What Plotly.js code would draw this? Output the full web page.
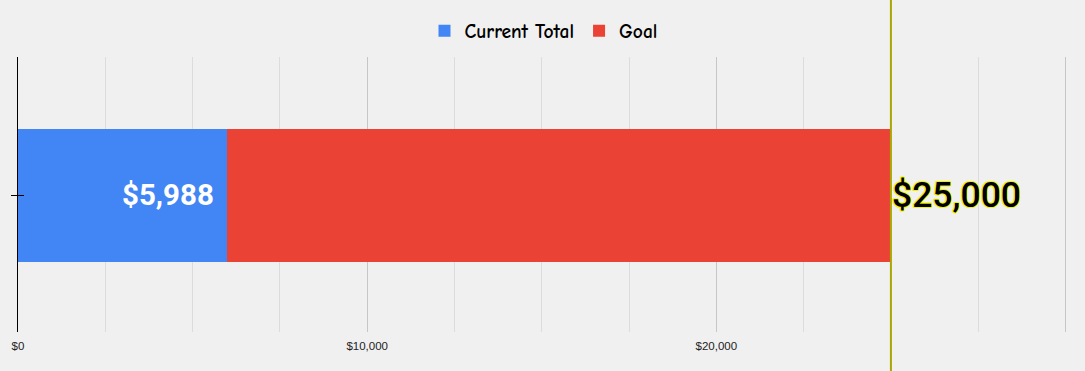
<!DOCTYPE html>
<html>
<head>
<meta charset="utf-8">
<script src="https://cdn.plot.ly/plotly-3.0.1.min.js"></script>
<style>
  html, body { margin: 0; padding: 0; background: #f0f0f0; }
  #chart { width: 1085px; height: 371px; }
  /* yellow halo around the goal label */
  g.annotation:last-of-type .annotation-text {
    paint-order: stroke;
    stroke: #f2f200;
    stroke-width: 2.2px;
    stroke-linejoin: round;
  }
</style>
</head>
<body>
<div id="chart"></div>
<script>
// Fundraising progress
const categories = ["Progress"];
const currentTotal = [5988];
const goal = [25000];
const tickValues = [0, 10000, 20000, 30000];
const tickLabels = ["$0", "$10,000", "$20,000", ""];

const remaining = goal.map((g, i) => g - currentTotal[i]);
const fmt = v => "$" + v.toLocaleString("en-US");

const traces = [
  {
    type: "bar",
    orientation: "h",
    name: "Current Total",
    y: categories,
    x: currentTotal,
    marker: { color: "#4285f4" },
    hoverinfo: "skip"
  },
  {
    type: "bar",
    orientation: "h",
    name: "Goal",
    y: categories,
    x: remaining,
    marker: { color: "#ea4335" },
    hoverinfo: "skip"
  }
];

const layout = {
  width: 1085,
  height: 371,
  paper_bgcolor: "#f0f0f0",
  plot_bgcolor: "#f0f0f0",
  barmode: "stack",
  bargap: 0.517,
  margin: { l: 18, r: 16, t: 56, b: 39 },
  showlegend: true,
  legend: {
    orientation: "h",
    x: 0.5, xanchor: "center",
    y: 1.02, yanchor: "bottom",
    yref: "paper",
    font: { family: "Comic Sans MS, Comic Neue, DejaVu Sans", size: 19.5, color: "#000000", weight: 700 },
    itemwidth: 30,
    traceorder: "normal",
    bgcolor: "rgba(0,0,0,0)"
  },
  xaxis: {
    range: [0, 30100],
    tickmode: "array",
    tickvals: tickValues,
    ticktext: tickLabels,
    ticks: "",
    ticklabelstandoff: 5,
    showgrid: true,
    gridcolor: "#c6c6c6",
    gridwidth: 1,
    zeroline: false,
    showline: false,
    tickfont: { family: "Liberation Sans, Arial", size: 11.5, color: "#222222" },
    minor: { dtick: 2500, tick0: 0, showgrid: true, gridcolor: "#dcdcdc", gridwidth: 1 },
    fixedrange: true
  },
  yaxis: {
    range: [-0.4964, 0.5036],
    showticklabels: false,
    ticks: "outside",
    ticklen: 6,
    tickcolor: "#000000",
    showline: true,
    linecolor: "#000000",
    linewidth: 1,
    showgrid: false,
    zeroline: false,
    fixedrange: true
  },
  shapes: [
    // goal marker line across the full height
    {
      type: "line", xref: "x", yref: "paper",
      x0: goal[0], x1: goal[0], y0: -0.2, y1: 1.3,
      line: { color: "#a8a800", width: 2 }
    },
    // inner half of the category tick, crossing the axis line
    {
      type: "line", xref: "paper", yref: "y",
      xsizemode: "pixel", xanchor: 0, x0: 0, x1: 6,
      y0: categories[0], y1: categories[0],
      line: { color: "#000000", width: 1 }
    }
  ],
  annotations: [
    {
      x: currentTotal[0], y: categories[0], xref: "x", yref: "y",
      text: fmt(currentTotal[0]),
      showarrow: false, xanchor: "right", yanchor: "middle", xshift: -11,
      font: { family: "Roboto", size: 29.5, color: "#ffffff", weight: 700 }
    },
    {
      x: goal[0], y: categories[0], xref: "x", yref: "y",
      text: fmt(goal[0]),
      showarrow: false, xanchor: "left", yanchor: "middle", xshift: -1,
      font: { family: "Roboto", size: 35.5, color: "#000000", weight: 500 }
    }
  ]
};

Plotly.newPlot("chart", traces, layout, { displayModeBar: false, staticPlot: true });
</script>
</body>
</html>
